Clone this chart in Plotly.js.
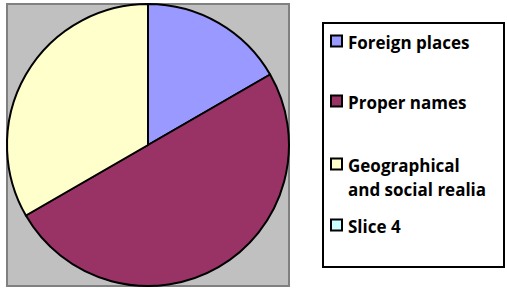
<!DOCTYPE html>
<html>
<head>
<meta charset="utf-8">
<script src="https://cdn.plot.ly/plotly-3.0.1.min.js"></script>
<style>html,body{margin:0;padding:0;background:#fff;}#chart{width:507px;height:288px;}</style>
</head>
<body>
<div id="chart"></div>
<script>
const labels = ["Foreign places", "Proper names", "Geographical<br>and social realia", "Slice 4"];
const values = [1, 3, 2, 0];
const colors = ["#9999FF", "#993366", "#FFFFCC", "#CCFFFF"];

const W = 507, H = 288;
const px = x => x / W;
const py = y => 1 - y / H;

const trace = {
  type: "pie",
  labels: labels,
  values: values,
  sort: false,
  direction: "clockwise",
  rotation: 0,
  textinfo: "none",
  hoverinfo: "label+value+percent",
  marker: {colors: colors, line: {color: "#000000", width: 2}},
  domain: {x: [px(7), px(289)], y: [py(286), py(4)]},
  showlegend: false
};

const shapes = [
  {type: "rect", xref: "paper", yref: "paper", x0: px(7), x1: px(289), y0: py(286), y1: py(4),
   fillcolor: "#C0C0C0", line: {color: "#808080", width: 2}, layer: "below"},
  {type: "rect", xref: "paper", yref: "paper", x0: px(323), x1: px(504), y0: py(267), y1: py(23),
   fillcolor: "rgba(0,0,0,0)", line: {color: "#000000", width: 2}, layer: "above"}
];
const annotations = [];
const itemY = [41, 101, 164, 225];
const lineGap = 24;
labels.forEach((lab, i) => {
  const y = itemY[i];
  shapes.push({type: "rect", xref: "paper", yref: "paper", x0: px(331), x1: px(342),
    y0: py(y + 5.5), y1: py(y - 5.5), fillcolor: colors[i], line: {color: "#000000", width: 2}});
  lab.split("<br>").forEach((ln, j) => {
    annotations.push({xref: "paper", yref: "paper", x: px(346), y: py(y + 1 + j * lineGap),
      xanchor: "left", yanchor: "middle",
      text: "<b>" + ln + "</b>", showarrow: false, align: "left",
      font: {family: "'Open Sans', sans-serif", size: 17, color: "#000000"}});
  });
});

const layout = {
  width: W, height: H,
  margin: {l: 0, r: 0, t: 0, b: 0},
  paper_bgcolor: "#FFFFFF",
  showlegend: false,
  shapes: shapes,
  annotations: annotations
};
Plotly.newPlot("chart", [trace], layout, {displayModeBar: false, staticPlot: true});
</script>
</body>
</html>
